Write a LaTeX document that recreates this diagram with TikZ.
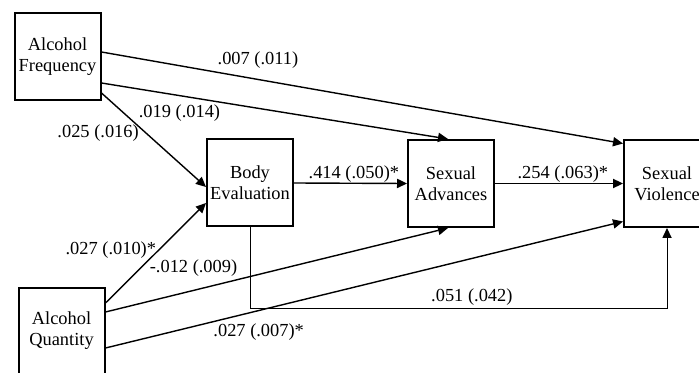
\documentclass[tikz,border=0pt]{standalone}
\usepackage{fontspec}
\setmainfont{Liberation Serif}
\usetikzlibrary{arrows.meta}

\begin{document}
\begin{tikzpicture}[x=0.5pt,y=-0.5pt,
    font=\fontsize{9.2}{10.5}\selectfont,
    >={Triangle[length=5pt,width=4.6pt]}]

      \useasboundingbox (0,0) rectangle (699,373);

      \begin{scope}[every node/.style={rectangle,draw,line width=1pt,
          minimum width=43pt,minimum height=43.5pt,align=center,inner sep=1pt}]
        \node (af) at (57.5,57)   {Alcohol\\Frequency};
        \node (be) at (250,183)   {Body\\Evaluation};
        \node (sa) at (451,183.5) {Sexual\\Advances};
        \node (sv) at (667,183.5) {Sexual\\Violence};
        \node (aq) at (61.5,331)  {Alcohol\\Quantity};
      \end{scope}

      \coordinate (elbow) at (667,308);

      \begin{scope}[every node/.style={inner sep=1pt}]

        \begin{scope}[line width=0.7pt]
          \draw[->] ([yshift=2.5pt]af.east) -- node[pos=0.3,above=4.3pt] {.007 (.011)} ([yshift=20pt]sv.west);
          \draw[->] ([yshift=-13pt]af.east) -- node[pos=0.225,below=3.3pt] {.019 (.014)} ([xshift=-1.5pt]sa.north);
          \draw[->] ([yshift=-18pt]af.east) -- node[pos=0.43,left=2.5pt] {.025 (.016)} ([yshift=-2pt]be.west);
          \draw[->] (be.east) -- node[pos=0.53,above=-1pt] {.414 (.050)*} (sa.west);
          \draw[->] (sa.east) -- node[pos=0.53,above=-1pt] {.254 (.063)*} (sv.west);
          \draw[->] ([yshift=14pt]aq.east) -- node[pos=0.53,left=0pt] {.027 (.010)*} ([yshift=-10pt]be.west);
          \draw[->] ([yshift=9.5pt]aq.east) -- node[pos=0.257,above=5.8pt] {-.012 (.009)} ([xshift=-1.5pt]sa.south);
          \draw[->] ([yshift=-8.5pt]aq.east) -- node[pos=0.296,below=5.3pt] {.027 (.007)*} ([yshift=-19pt]sv.west);
        \end{scope}

        \draw[->,line width=0.5pt] (be.south) |- (elbow) node[pos=0.766,above=0pt] {.051 (.042)} -- (sv.south);
      \end{scope}

    \end{tikzpicture}
\end{document}
